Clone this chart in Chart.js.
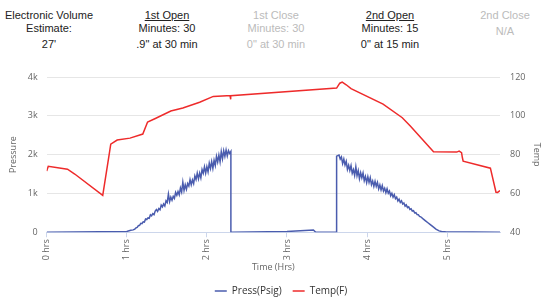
<!DOCTYPE html>
<html>
<head>
<meta charset="utf-8">
<script src="https://cdn.jsdelivr.net/npm/chart.js"></script>
<style>
  html, body { margin: 0; padding: 0; background: #fff; }
  body { width: 542px; height: 297px; position: relative; overflow: hidden; font-family: "Liberation Sans", Arial, sans-serif; }
  .col { position: absolute; top: 9px; width: 110px; margin-left: -55px; text-align: center; font-size: 11px; line-height: 13px; color: #222; }
  .col .gap { height: 3px; }
  .col.off { color: #bbb; }
  .u { text-decoration: underline; }
  #wrap { position: absolute; left: 0; top: 56px; width: 542px; height: 250px; }
</style>
</head>
<body>
<div class="col" style="left:49px">Electronic Volume<br>Estimate:<div class="gap"></div>27'</div>
<div class="col" style="left:167px"><span class="u">1st Open</span><br>Minutes: 30<div class="gap"></div>.9" at 30 min</div>
<div class="col off" style="left:276px">1st Close<br>Minutes: 30<div class="gap"></div>0" at 30 min</div>
<div class="col" style="left:390px"><span class="u">2nd Open</span><br>Minutes: 15<div class="gap"></div>0" at 15 min</div>
<div class="col off" style="left:505px">2nd Close<div style="height:3px"></div>N/A</div>
<div id="wrap"><canvas id="chart"></canvas></div>
<script>
// pressure readings (hours, psig) - the gauge is noisy while the tool is open
const pressTime = [
  0, 1.0, 1.05, 1.08,
  1.100, 1.115, 1.130, 1.145, 1.160, 1.175, 1.190, 1.205, 1.220, 1.235, 1.250, 1.265, 1.280, 1.295,
  1.310, 1.325, 1.340, 1.355, 1.370, 1.385, 1.400, 1.415, 1.430, 1.445, 1.460, 1.475, 1.490, 1.505,
  1.520, 1.535, 1.550, 1.565, 1.580, 1.595, 1.610, 1.625, 1.640, 1.655, 1.670, 1.685, 1.700, 1.715,
  1.730, 1.745, 1.760, 1.775, 1.790, 1.805, 1.820, 1.835, 1.850, 1.865, 1.880, 1.895, 1.910, 1.925,
  1.940, 1.955, 1.970, 1.985, 2.000, 2.015, 2.030, 2.045, 2.060, 2.075, 2.090, 2.105, 2.120, 2.135,
  2.150, 2.165, 2.180, 2.195, 2.210, 2.225, 2.240, 2.255, 2.270, 2.285, 2.300, 2.300,
  3.00, 3.33, 3.36, 3.62, 3.62,
  3.650, 3.665, 3.680, 3.695, 3.710, 3.725, 3.740, 3.755, 3.770, 3.785, 3.800, 3.815, 3.830, 3.845,
  3.860, 3.875, 3.890, 3.905, 3.920, 3.935, 3.950, 3.965, 3.980, 3.995, 4.010, 4.025, 4.040, 4.055,
  4.070, 4.085, 4.100, 4.115, 4.130, 4.145, 4.160, 4.175, 4.190, 4.205, 4.220, 4.235, 4.250, 4.265,
  4.280, 4.295, 4.310, 4.325, 4.340, 4.355, 4.370, 4.385, 4.400, 4.415, 4.430, 4.445, 4.460, 4.475,
  4.490, 4.505, 4.520, 4.535, 4.550, 4.565, 4.580, 4.595, 4.610, 4.625, 4.640, 4.655, 4.670, 4.700,
  4.730, 4.760, 4.790, 4.830, 4.860, 4.900, 4.930, 4.980, 5.660
];
const pressVals = [
  0, 20, 50, 60,
  80, 111, 124, 169, 179, 229, 220, 269, 261, 342, 328, 369, 360, 450,
  421, 477, 453, 544, 584, 535, 611, 577, 698, 653, 729, 675, 811, 767,
  982, 788, 904, 825, 926, 871, 1027, 953, 1049, 965, 1140, 1036, 1292, 1078,
  1224, 1109, 1255, 1191, 1357, 1223, 1348, 1254, 1450, 1356, 1522, 1377, 1523, 1399,
  1615, 1521, 1686, 1522, 1688, 1554, 1780, 1645, 1821, 1647, 1853, 1719, 1954, 1810,
  1986, 1812, 2078, 1893, 2099, 1955, 2121, 1966, 2100, 2030, 2080, 0,
  20, 60, 0, 0, 1960,
  1988, 1885, 1942, 1769, 1886, 1733, 1830, 1617, 1724, 1591, 1718, 1520, 1612, 1463,
  1685, 1457, 1588, 1380, 1532, 1403, 1525, 1327, 1438, 1280, 1432, 1283, 1405, 1227,
  1318, 1180, 1312, 1183, 1285, 1117, 1218, 1090, 1202, 1063, 1135, 1017, 1120, 1006,
  1062, 939, 1005, 901, 967, 863, 904, 806, 852, 768, 809, 725, 752, 673,
  704, 635, 656, 588, 604, 545, 556, 497, 504, 455, 453, 409, 398, 344,
  294, 245, 195, 130, 80, 35, 20, 10, 0
];

// temperature readings (hours, F)
const tempTime = [0, 0.02, 0.26, 0.35, 0.70, 0.78, 0.80, 0.88, 1.04, 1.20, 1.26, 1.35, 1.55, 1.70,
  1.91, 2.08, 2.25, 2.29, 2.295, 2.30, 3.62, 3.66, 3.69, 3.74, 3.80, 4.20, 4.44, 4.54, 4.83,
  5.12, 5.15, 5.18, 5.19, 5.20, 5.54, 5.61, 5.63, 5.66];
const tempVals = [71.5, 74, 72.5, 70, 59, 80, 85.4, 87.5, 88.5, 90.6, 96.8, 98.5, 102.5, 104,
  107, 110, 110.3, 110.3, 108.5, 110.3, 114.3, 116.8, 117.4, 116, 114, 106, 99, 94.7, 81.5,
  81.3, 81.8, 81, 78.5, 76.6, 73, 60.6, 60.5, 61.5];

const xTicks = [0, 1, 2, 3, 4, 5];

const toPts = (xs, ys) => xs.map((x, i) => ({ x: x, y: ys[i] }));

// nudge the legend a bit to the right, like the original
const legendShift = {
  id: 'legendShift',
  afterLayout(chart) {
    chart.legend.left += 6;
    chart.legend.right += 6;
  }
};

new Chart(document.getElementById('chart').getContext('2d'), {
  type: 'line',
  data: {
    datasets: [{
      label: 'Press(Psig)',
      data: toPts(pressTime, pressVals),
      borderColor: '#4a5cae',
      backgroundColor: '#4a5cae',
      borderWidth: 1.5,
      pointRadius: 0,
      yAxisID: 'y'
    }, {
      label: 'Temp(F)',
      data: toPts(tempTime, tempVals),
      borderColor: '#ee2b2b',
      backgroundColor: '#ee2b2b',
      borderWidth: 1.5,
      pointRadius: 0,
      yAxisID: 'y1'
    }]
  },
  plugins: [legendShift],
  options: {
    responsive: true,
    maintainAspectRatio: false,
    animation: false,
    layout: { padding: { top: 21, left: 8, right: 0, bottom: 0 } },
    plugins: {
      tooltip: { enabled: false },
      legend: {
        position: 'bottom',
        labels: {
          usePointStyle: true, pointStyle: 'line', pointStyleWidth: 12, boxWidth: 12,
          color: '#333', padding: 11, font: { family: 'Open Sans', size: 10 }
        }
      }
    },
    scales: {
      x: {
        type: 'linear', min: 0, max: 5.66,
        afterBuildTicks: axis => { axis.ticks = xTicks.map(v => ({ value: v })); },
        ticks: {
          minRotation: 90, maxRotation: 90, padding: 2,
          color: '#666', font: { family: 'Open Sans', size: 9 },
          callback: v => v + ' hrs'
        },
        grid: { drawOnChartArea: false, drawTicks: true, tickLength: 5, color: '#ccd6eb' },
        border: { color: '#ccd6eb' },
        title: { display: true, text: 'Time (Hrs)', color: '#666', font: { family: 'Open Sans', size: 9 }, padding: { top: 0, bottom: 2 } }
      },
      y: {
        position: 'left', min: 0, max: 4000,
        ticks: {
          stepSize: 1000, padding: 9, color: '#666', font: { family: 'Open Sans', size: 9 },
          callback: v => v === 0 ? '0' : (v / 1000) + 'k'
        },
        grid: { color: '#e6e6e6', drawTicks: false },
        border: { display: false },
        title: { display: true, text: 'Pressure', color: '#666', font: { family: 'Open Sans', size: 9 }, padding: 0 }
      },
      y1: {
        position: 'right', min: 40, max: 120,
        afterFit: scale => { scale.width = 42; },
        ticks: { stepSize: 20, padding: 10, color: '#666', font: { family: 'Open Sans', size: 9 } },
        grid: { drawOnChartArea: false, drawTicks: false },
        border: { display: false },
        title: { display: true, text: 'Temp', color: '#666', font: { family: 'Open Sans', size: 9 }, padding: 0 }
      }
    }
  }
});
</script>
</body>
</html>
